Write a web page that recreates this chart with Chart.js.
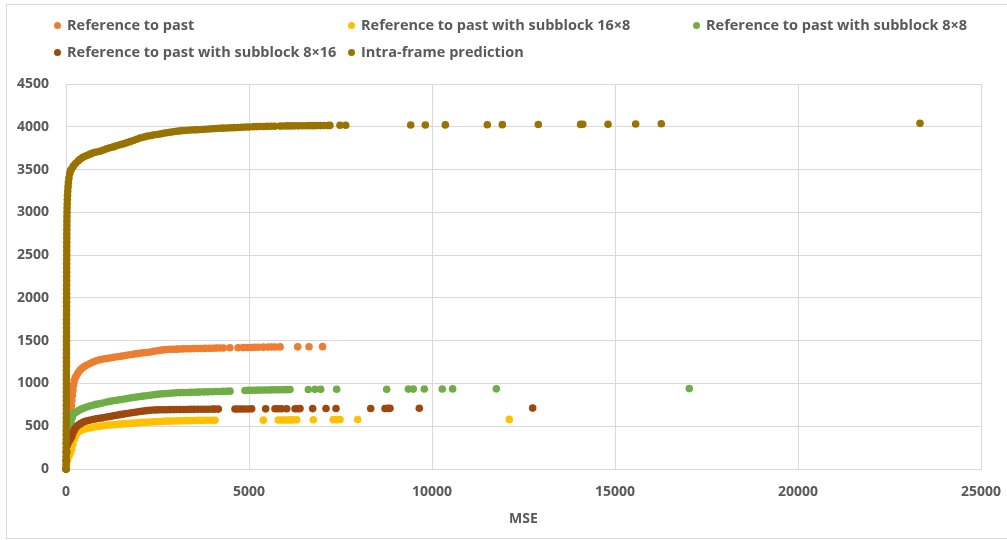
<!DOCTYPE html>
<html>
<head>
<meta charset="utf-8">
<script src="https://cdn.jsdelivr.net/npm/chart.js@4.4.0/dist/chart.umd.min.js"></script>
<style>
  html, body { margin:0; padding:0; background:#fff; }
  #wrap { position:relative; width:1007px; height:540px; overflow:hidden; }
  #frame { position:absolute; left:6px; top:4px; width:1030px; height:535px; border:1px solid #d9d9d9; box-sizing:border-box; }
  canvas { position:absolute; left:0; top:0; }
  .lg { position:absolute; font-family:'Open Sans', sans-serif; font-weight:700; font-size:14.5px; color:#595959; line-height:20px; white-space:nowrap; }
  .mk { position:absolute; width:7px; height:7px; border-radius:50%; }
</style>
</head>
<body>
<div id="wrap">
  <div id="frame"></div>
  <canvas id="c" width="1007" height="540"></canvas>
  <div id="legend"></div>
</div>
<script>
// ---- Data ----
const seriesNames = [
  'Reference to past',
  'Reference to past with subblock 16×8',
  'Reference to past with subblock 8×8',
  'Reference to past with subblock 8×16',
  'Intra-frame prediction'
];
const xTickValues = [0, 5000, 10000, 15000, 20000, 25000];
const yTickValues = [0, 500, 1000, 1500, 2000, 2500, 3000, 3500, 4000, 4500];

const refPast = [
[0,0],[5,100],[8,200],[10,300],[12,400],[110,500],[120,560],[130,620],[140,680],[150,740],[160,800],[175,860],[190,920],[205,980],[225,1030],[255,1070],[292,1096],[330,1125],[380,1155],[429,1174],[490,1195],[560,1212],[656,1233],[740,1250],[830,1265],[930,1278],[1020,1286],[1111,1292],[1200,1298],[1300,1305],[1400,1312],[1500,1318],[1580,1324],[1658,1330],[1750,1336],[1840,1342],[1930,1348],[2020,1353],[2110,1358],[2204,1362],[2300,1368],[2400,1375],[2500,1382],[2600,1389],[2680,1394],[2750,1397],[2850,1399],[2930,1400],[3023,1401],[3100,1403],[3200,1404],[3300,1405],[3400,1406],[3500,1407],[3600,1408],[3700,1409],[3800,1410],[3900,1411],[4000,1412],[4100,1413],[4200,1414],[4300,1415],[4480,1417],[4700,1418],[4840,1419],[4950,1420],[5050,1421],[5150,1422],[5250,1423],[5390,1424],[5520,1425],[5620,1426],[5720,1426],[5850,1427],[6330,1428],[6640,1429],[7010,1430]
];
const sub16x8 = [
[0,0],[20,50],[40,100],[80,150],[120,190],[156,230],[190,290],[230,350],[260,385],[292,413],[340,435],[400,450],[470,462],[566,472],[650,480],[740,487],[830,493],[929,500],[1020,506],[1111,511],[1200,515],[1290,518],[1380,521],[1470,524],[1560,527],[1658,530],[1750,533],[1840,536],[1930,539],[2020,542],[2110,545],[2200,547],[2295,549],[2390,551],[2480,553],[2570,555],[2660,557],[2750,559],[2840,560],[2932,561],[3020,562],[3115,563],[3210,564],[3300,565],[3400,566],[3500,567],[3600,568],[3700,568],[3800,569],[3900,569],[4000,570],[4071,570],[5390,571],[5800,572],[5880,572],[5960,573],[6040,573],[6120,574],[6200,574],[6303,575],[6758,576],[7304,577],[7400,577],[7486,578],[7969,578],[12112,580]
];
const sub8x8 = [
[0,0],[5,100],[10,200],[15,300],[30,380],[80,420],[110,480],[140,540],[170,600],[200,640],[250,660],[292,670],[350,685],[420,700],[490,712],[566,725],[650,735],[730,745],[820,755],[910,763],[1000,771],[1111,783],[1200,790],[1290,797],[1380,804],[1470,810],[1560,816],[1658,823],[1750,829],[1840,835],[1930,841],[2020,847],[2110,852],[2200,857],[2295,862],[2390,867],[2480,872],[2570,876],[2660,880],[2750,883],[2840,886],[2932,889],[3020,891],[3115,893],[3210,894],[3300,895],[3400,896],[3500,897],[3600,898],[3661,900],[3770,901],[3880,902],[3990,903],[4100,905],[4200,906],[4300,907],[4400,909],[4481,910],[4890,918],[4980,919],[5070,920],[5160,921],[5254,922],[5347,923],[5440,924],[5530,924],[5620,925],[5710,926],[5800,926],[5890,927],[5980,928],[6060,928],[6120,929],[6621,930],[6803,931],[6959,931],[7395,932],[8762,933],[9355,934],[9490,934],[9790,935],[10281,935],[10565,936],[11757,937],[17030,940]
];
const sub8x16 = [
[0,0],[10,100],[20,200],[40,280],[80,320],[120,350],[156,380],[190,420],[220,450],[246,472],[290,495],[340,515],[400,530],[473,549],[550,560],[640,570],[730,578],[820,586],[910,592],[1000,598],[1111,608],[1200,614],[1290,621],[1380,628],[1470,635],[1560,641],[1658,648],[1750,654],[1840,660],[1930,666],[2020,672],[2110,677],[2200,682],[2295,686],[2390,689],[2480,691],[2570,692],[2660,693],[2750,693],[2840,694],[2932,694],[3020,695],[3115,695],[3210,696],[3300,696],[3400,697],[3500,697],[3600,698],[3700,698],[3800,699],[3900,699],[4000,700],[4071,700],[4162,700],[4617,701],[4700,701],[4790,702],[4880,702],[4980,702],[5073,703],[5456,703],[5710,704],[5800,704],[5893,704],[6030,705],[6257,705],[6330,705],[6393,706],[6740,706],[7104,707],[7377,707],[8325,708],[8716,708],[8790,709],[8852,709],[9654,710],[12751,712]
];
const intraFrame = [
[0,0],[2,50],[3,100],[4,150],[5,200],[5,250],[6,300],[6,350],[7,400],[7,450],[8,500],[8,550],[8,600],[9,650],[9,700],[9,750],[10,800],[10,850],[10,900],[10,950],[11,1000],[11,1050],[11,1100],[11,1150],[12,1200],[12,1250],[12,1300],[12,1350],[13,1400],[13,1450],[13,1500],[13,1550],[14,1600],[14,1650],[14,1700],[14,1750],[15,1800],[15,1850],[15,1900],[15,1950],[16,2000],[16,2050],[16,2100],[17,2150],[17,2200],[17,2250],[18,2300],[18,2350],[18,2400],[19,2450],[19,2500],[20,2550],[20,2600],[21,2650],[21,2700],[22,2750],[23,2800],[24,2850],[25,2900],[26,2950],[28,3000],[30,3050],[33,3100],[37,3150],[42,3200],[48,3250],[56,3300],[66,3350],[80,3400],[100,3450],[125,3490],[156,3510],[200,3540],[260,3570],[330,3600],[383,3620],[450,3640],[520,3655],[590,3668],[656,3680],[740,3695],[830,3705],[929,3714],[1020,3728],[1110,3742],[1200,3755],[1293,3765],[1380,3778],[1470,3790],[1560,3800],[1658,3812],[1750,3826],[1840,3840],[1930,3855],[2022,3868],[2110,3878],[2200,3888],[2290,3896],[2380,3903],[2477,3909],[2570,3916],[2660,3923],[2750,3930],[2840,3936],[2930,3942],[3023,3948],[3120,3952],[3220,3956],[3320,3959],[3420,3962],[3520,3964],[3600,3966],[3700,3968],[3800,3971],[3900,3974],[4000,3977],[4100,3980],[4200,3982],[4300,3984],[4400,3986],[4500,3988],[4600,3990],[4700,3992],[4800,3994],[4900,3996],[5000,3998],[5118,4000],[5200,4002],[5300,4003],[5400,4004],[5500,4005],[5600,4006],[5700,4007],[5850,4008],[5950,4009],[6050,4010],[6150,4010],[6250,4011],[6350,4011],[6450,4012],[6550,4012],[6650,4013],[6750,4013],[6850,4014],[6950,4014],[7050,4015],[7150,4015],[7210,4016],[7486,4017],[7642,4018],[9418,4020],[9818,4021],[10364,4022],[11511,4024],[11921,4025],[12905,4027],[14060,4028],[14120,4029],[14809,4030],[15565,4033],[16265,4035],[23333,4040]
];
const seriesData = [refPast, sub16x8, sub8x8, sub8x16, intraFrame];
const seriesColors = ['#ED7D31', '#FFC000', '#70AD47', '#9E480E', '#997300'];
const drawOrder = [4, 3, 2, 1, 0]; // intra-frame on top

// ---- Legend (HTML, Excel-like grid) ----
const legendPos = [
  {mx:57, tx:67, y:25}, {mx:351, tx:361, y:25}, {mx:696, tx:706, y:25},
  {mx:57, tx:67, y:52}, {mx:351, tx:361, y:52}
];
const legendEl = document.getElementById('legend');
seriesNames.forEach((name, i) => {
  const p = legendPos[i];
  const m = document.createElement('div');
  m.className = 'mk';
  m.style.left = (p.mx - 3.5) + 'px';
  m.style.top = (p.y - 3.5) + 'px';
  m.style.background = seriesColors[i];
  legendEl.appendChild(m);
  const t = document.createElement('div');
  t.className = 'lg';
  t.style.left = p.tx + 'px';
  t.style.top = (p.y - 10) + 'px';
  t.textContent = name;
  legendEl.appendChild(t);
});

// ---- Chart ----
const tickFont = { family: "'Open Sans', sans-serif", size: 14, weight: '700' };
const datasets = seriesData.map((d, i) => ({
  label: seriesNames[i],
  data: d.map(([x, y]) => ({ x, y })),
  backgroundColor: seriesColors[i],
  borderColor: seriesColors[i],
  borderWidth: 0,
  pointRadius: 3.8,
  pointHoverRadius: 3.8,
  order: drawOrder[i],
  clip: false
}));

new Chart(document.getElementById('c'), {
  type: 'scatter',
  data: { datasets },
  options: {
    responsive: false,
    animation: false,
    events: [],
    layout: { padding: { left: 0, right: 26, top: 84, bottom: 0 } },
    plugins: { legend: { display: false }, tooltip: { enabled: false } },
    scales: {
      x: {
        type: 'linear',
        min: xTickValues[0],
        max: xTickValues[xTickValues.length - 1],
        afterBuildTicks: (s) => { s.ticks = xTickValues.map(v => ({ value: v })); },
        ticks: { color: '#595959', font: tickFont, padding: 15, maxRotation: 0, callback: (v) => String(v) },
        grid: { color: '#d9d9d9', lineWidth: 1, drawTicks: false },
        border: { color: '#d9d9d9' },
        title: { display: true, text: 'MSE', color: '#595959', font: { family: "'Open Sans', sans-serif", size: 14, weight: '700' }, padding: { top: 0, bottom: 13 } },
        afterFit: (s) => { s.height = 71; s.paddingLeft = 0; s.paddingRight = 0; }
      },
      y: {
        type: 'linear',
        min: yTickValues[0],
        max: yTickValues[yTickValues.length - 1],
        afterBuildTicks: (s) => { s.ticks = yTickValues.map(v => ({ value: v })); },
        ticks: { color: '#595959', font: tickFont, padding: 17, callback: (v) => String(v) },
        grid: { color: '#d9d9d9', lineWidth: 1, drawTicks: false },
        border: { color: '#d9d9d9' },
        afterFit: (s) => { s.width = 66; s.paddingTop = 0; s.paddingBottom = 0; }
      }
    }
  }
});
</script>
</body>
</html>
